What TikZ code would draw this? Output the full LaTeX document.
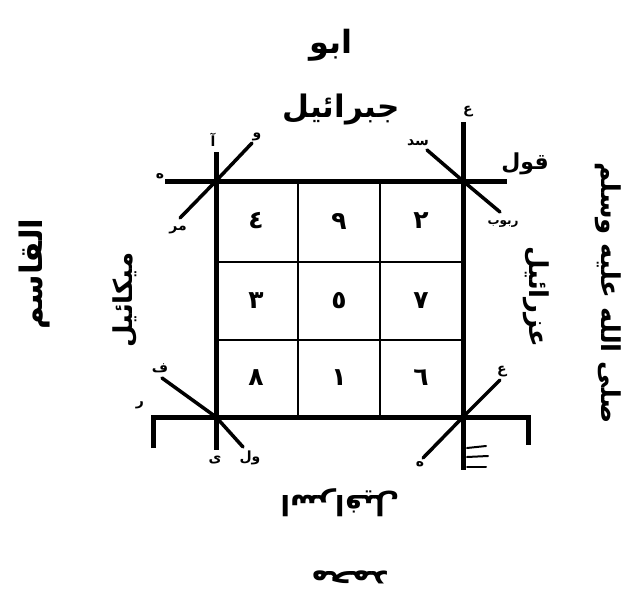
\documentclass[tikz,border=0pt]{standalone}
\usepackage{fontspec}
\newfontfamily\arabicfont[Script=Arabic]{DejaVu Sans}
\TeXXeTstate=1
\newcommand{\artxt}[1]{\arabicfont\bfseries\beginR #1\endR}

\begin{document}
\begin{tikzpicture}[x=1pt,y=-1pt,
    frame/.style={line width=5pt},
    cell/.style={line width=1.2pt},
    slant/.style={line width=3.5pt,line cap=round},
    tick/.style={line width=2pt,line cap=round},
    word/.style={inner sep=0pt,font=\fontsize{26}{28}\selectfont},
    digit/.style={inner sep=0pt,font=\fontsize{25}{27}\selectfont},
    glyph/.style={inner sep=0pt,font=\fontsize{14}{16}\selectfont}]
    \useasboundingbox (0,0) rectangle (634,597);

    % Corners
    \coordinate (tl) at (216,181);
    \coordinate (tr) at (463,181);
    \coordinate (bl) at (216,417);
    \coordinate (br) at (463,417);

    % Cells
    \draw[cell] (298,181) -- (298,417);
    \draw[cell] (380,181) -- (380,417);
    \draw[cell] (216,262) -- (463,262);
    \draw[cell] (216,340) -- (463,340);

    % Frame lines
    \draw[frame] (165,181) -- (507,181);
    \draw[frame] (216,152) -- (216,450);
    \draw[frame] (463,122) -- (463,470);
    \draw[frame] (153,448) -- (153,417) -- (528,417) -- (528,445);

    % Slanted strokes through the corners
    \draw[slant] (252,143) -- (tl) -- (180,218);
    \draw[slant] (427,150) -- (tr) -- (500,212);
    \draw[slant] (162,378) -- (bl) -- (243,447);
    \draw[slant] (423,458) -- (br) -- (500,380);
    \draw[tick] (467,448) -- (486,446);
    \draw[tick] (467,457) -- (488,456);
    \draw[tick] (467,467) -- (486,467);

    % Numbers
    \node[digit] (n4) at (256,221) {\artxt{٤}};
    \node[digit] (n9) at (339,221) {\artxt{٩}};
    \node[digit] (n2) at (421,221) {\artxt{٢}};
    \node[digit] (n3) at (256,301) {\artxt{٣}};
    \node[digit] (n5) at (339,301) {\artxt{٥}};
    \node[digit] (n7) at (421,301) {\artxt{٧}};
    \node[digit] (n8) at (256,378) {\artxt{٨}};
    \node[digit] (n1) at (339,378) {\artxt{١}};
    \node[digit] (n6) at (421,378) {\artxt{٦}};

    % Names around the square
    \node[word,font=\fontsize{32}{34}\selectfont] (abu) at (331,45) {\artxt{ابو}};
    \node[word,font=\fontsize{31}{33}\selectfont] (jibril) at (341,110) {\artxt{جبرائيل}};
    \node[word,rotate=90,font=\fontsize{31}{33}\selectfont] (qasim) at (35,274) {\artxt{القاسم}};
    \node[word,rotate=90] (mikail) at (125,300) {\artxt{ميكائيل}};
    \node[word,rotate=-90] (azrail) at (536,297) {\artxt{عزرائيل}};
    \node[word,rotate=-90] (salla) at (608,293) {\artxt{صلى الله عليه وسلم}};
    \node[word,rotate=180,font=\fontsize{28}{30}\selectfont] (israfil) at (340,503) {\artxt{اسرافيل}};
    \node[word,rotate=180,font=\fontsize{30}{32}\selectfont] (muhammad) at (350,577) {\artxt{محمد}};

    % Small letters at the line ends
    \node[word,font=\fontsize{22}{24}\selectfont] (qawl) at (525,164) {\artxt{قول}};
    \node[glyph,font=\fontsize{12}{14}\selectfont] (rabub) at (503,224) {\artxt{ربوب}};
    \node[glyph] (ha) at (160,176) {\artxt{ه}};
    \node[glyph] (alif) at (213,140) {\artxt{آ}};
    \node[glyph] (waw) at (257,137) {\artxt{و}};
    \node[glyph] (mr) at (178,230) {\artxt{مر}};
    \node[glyph] (ain) at (468,112) {\artxt{ع}};
    \node[glyph] (sd) at (418,143) {\artxt{سد}};
    \node[glyph] (fa) at (160,368) {\artxt{ف}};
    \node[glyph] (ra) at (140,405) {\artxt{ر}};
    \node[glyph] (ya) at (215,460) {\artxt{ى}};
    \node[glyph] (ql) at (250,458) {\artxt{ول}};
    \node[glyph] (ha2) at (502,372) {\artxt{ع}};
    \node[glyph] (ha3) at (420,464) {\artxt{ه}};
\end{tikzpicture}
\end{document}
